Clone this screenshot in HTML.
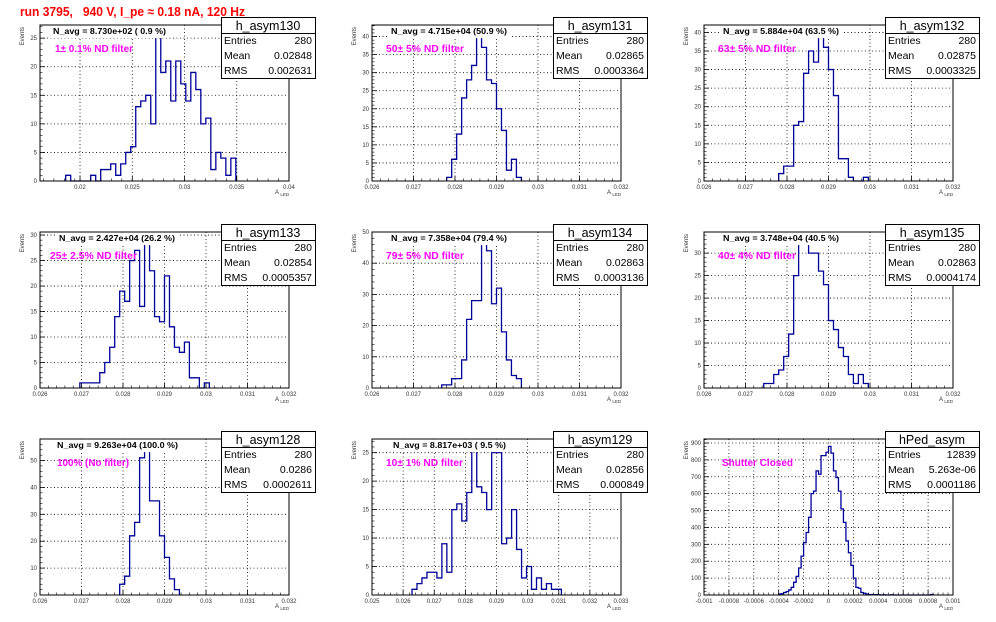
<!DOCTYPE html>
<html><head><meta charset="utf-8"><style>
body{margin:0;background:#fff}
svg{display:block;font-family:"Liberation Sans",Arial,sans-serif}
</style></head><body>
<svg id="c" width="996" height="622" viewBox="0 0 996 622" xmlns="http://www.w3.org/2000/svg">
<rect width="996" height="622" fill="#fff"/>
<text x="20" y="16" font-size="13" font-weight="bold" fill="#ff0000" textLength="225" lengthAdjust="spacingAndGlyphs" xml:space="preserve" style="white-space:pre">run 3795,   940 V, I_pe ≈ 0.18 nA, 120 Hz</text>
</svg>
<script>
// ----- data -----
const xTicksP1 = ["0.02","0.025","0.03","0.035","0.04"];
const xTicksMid = ["0.026","0.027","0.028","0.029","0.03","0.031","0.032"];
const xTicksP8 = ["0.025","0.026","0.027","0.028","0.029","0.03","0.031","0.032","0.033"];
const xTicksPed = ["-0.001","-0.0008","-0.0006","-0.0004","-0.0002","0","0.0002","0.0004","0.0006","0.0008","0.001"];
const yTicks25 = [0,5,10,15,20,25];
const yTicks30 = [0,5,10,15,20,25,30];
const yTicks40 = [0,5,10,15,20,25,30,35,40];
const yTicks50 = [0,10,20,30,40,50];
const yTicksPed = [0,100,200,300,400,500,600,700,800,900];

const counts130 = [1,0,0,0,0,1,0,2,2,3,1,3,5,6,13,14,15,10,26,19,21,14,21,17,14,19,16,10,11,2,5,4,1,4];
const counts131 = [1,6,13,23,28,32,41,37,28,27,20,14,3,6,1];
const counts132 = [2,4,4,15,16,29,35,32,40,36,30,23,6,6,1,0,0,1];
const counts133 = [1,1,1,1,3,5,8,14,19,17,25,27,16,29,23,14,13,22,12,8,7,9,2,2,0,1];
const counts134 = [1,1,3,3,9,22,28,28,48,44,27,32,18,9,4,3];
const counts135 = [1,1,3,4,7,12,25,33,32,30,30,26,23,15,13,9,7,3,1,3,1];
const counts128 = [4,7,22,27,51,55,35,35,22,14,6,2];
const counts129 = [1,2,3,4,4,3,9,4,15,16,13,18,26,19,18,15,25,25,9,10,15,8,3,5,1,3,1,2,1,1];
const countsPed = [5,8,15,20,30,45,75,110,160,230,310,370,460,600,615,735,715,825,825,845,880,840,735,695,615,510,430,320,250,175,100,45,40,15,10,5,3,3,1,2,1,0,1,0,0,1,0,0,0,0,0,0,0,0,0,0,0,0,0,0,0,3];

const binStarts = [0.018627,0.0278,0.0278,0.02696,0.02768,0.02744,0.02792,0.026285,-0.0004];
const binWidths = [0.000479,0.00012,0.00012,0.00012,0.00012,0.00012,0.00012,0.00016,0.00002];
const xRanges = [[0.01617,0.04],[0.026,0.032],[0.026,0.032],[0.026,0.032],[0.026,0.032],[0.026,0.032],[0.026,0.032],[0.025,0.033],[-0.001,0.001]];
const yMaxes = [27.3,43.2,42,30.6,50,34.7,58,27.4,923.6];
const histNames = ["h_asym130","h_asym131","h_asym132","h_asym133","h_asym134","h_asym135","h_asym128","h_asym129","hPed_asym"];
const entries = ["280","280","280","280","280","280","280","280","12839"];
const means = ["0.02848","0.02865","0.02875","0.02854","0.02863","0.02863","0.0286","0.02856","5.263e-06"];
const rmss = ["0.002631","0.0003364","0.0003325","0.0005357","0.0003136","0.0004174","0.0002611","0.000849","0.0001186"];
const navgs = ["N_avg = 8.730e+02 ( 0.9 %)","N_avg = 4.715e+04 (50.9 %)","N_avg = 5.884e+04 (63.5 %)","N_avg = 2.427e+04 (26.2 %)","N_avg = 7.358e+04 (79.4 %)","N_avg = 3.748e+04 (40.5 %)","N_avg = 9.263e+04 (100.0 %)","N_avg = 8.817e+03 ( 9.5 %)",""];
const filters = ["1\u00b1 0.1% ND filter","50\u00b1 5% ND filter","63\u00b1 5% ND filter","25\u00b1 2.5% ND filter","79\u00b1 5% ND filter","40\u00b1 4% ND filter","100% (No filter)","10\u00b1 1% ND filter","Shutter Closed"];

// ----- layout (not data) -----
const countsAll = [counts130,counts131,counts132,counts133,counts134,counts135,counts128,counts129,countsPed];
const xTickSets = [xTicksP1,xTicksMid,xTicksMid,xTicksMid,xTicksMid,xTicksMid,xTicksMid,xTicksP8,xTicksPed];
const yTickSets = [yTicks25,yTicks40,yTicks40,yTicks30,yTicks50,yTicks30,yTicks50,yTicks25,yTicksPed];
const navgX = [53,59,59,59,59,59,57,61,0];
const navgW = [113,116,116,116,116,116,121,113,0];
const filtX = [55,54,54,50,54,54,57,54,58];
const filtW = [78,78,78,87,78,78,72,77,71];

const NS = "http://www.w3.org/2000/svg";
const svg = document.getElementById('c');
function mk(tag, attrs, parent){
  const e = document.createElementNS(NS, tag);
  for (const k in attrs) e.setAttribute(k, attrs[k]);
  (parent||svg).appendChild(e);
  return e;
}

for (let i = 0; i < 9; i++) {
  const ox = (i % 3) * 332, oy = Math.floor(i / 3) * 207;
  const g = mk('g', {});
  
  
  const L = ox + 40, R = ox + 289, T = oy + 25, B = oy + 181;
  const [xmin, xmax] = xRanges[i];
  const ymax = yMaxes[i];
  const sx = v => L + (v - xmin) / (xmax - xmin) * (R - L);
  const sy = v => B - v / ymax * (B - T);

  const grid = mk('g', {stroke:'#000','stroke-width':'0.8','stroke-dasharray':'1,2.5'}, g);
  
  
  xTickSets[i].forEach(t => { const v = parseFloat(t), x = sx(v); if (x > L + 1 && x < R - 1) mk('line', {x1:x, x2:x, y1:T, y2:B}, grid); });
  yTickSets[i].forEach(v => { const y = sy(v); if (y > T + 1 && y < B - 1) mk('line', {x1:L, x2:R, y1:y, y2:y}, grid); });

  const c = countsAll[i], bs = binStarts[i], bw = binWidths[i];
  let d = 'M' + sx(bs).toFixed(2) + ',' + B;
  for (let k = 0; k < c.length; k++) {
    d += ' V' + sy(Math.min(c[k], ymax)).toFixed(2) + ' H' + sx(bs + (k + 1) * bw).toFixed(2);
  }
  d += ' V' + B;
  const h = mk('path', {d:d, fill:'none', stroke:'#000099', 'stroke-width':'1.3'}, g);
  
  

  const fr = mk('rect', {x:L, y:T, width:R-L, height:B-T, fill:'none', stroke:'#000', 'stroke-width':'1'}, g);
  
  

  const xt = xTickSets[i];
  for (let k = 0; k < xt.length; k++) {
    const v = parseFloat(xt[k]), x = sx(v);
    mk('line', {x1:x, x2:x, y1:B, y2:B - 5, stroke:'#000', 'stroke-width':'0.8'}, g);
    if (k < xt.length - 1) {
      const step = (parseFloat(xt[k + 1]) - v) / 5;
      for (let m = 1; m < 5; m++) { const xm = sx(v + m * step); mk('line', {x1:xm, x2:xm, y1:B, y2:B - 2.5, stroke:'#000', 'stroke-width':'0.6'}, g); }
    }
    if (x >= L - 2 && x <= R + 2) {
      const tl = mk('text', {x:x, y:B + 8, 'font-size':'6', 'text-anchor':'middle', fill:'#333'}, g);
      
      
      tl.textContent = xt[k];
    }
  }
  if (i === 0) { for (let v = 0.0165; v < 0.02; v += 0.001) { const xm = sx(v); mk('line', {x1:xm, x2:xm, y1:B, y2:B - 2.5, stroke:'#000', 'stroke-width':'0.6'}, g); } }
  const yt = yTickSets[i];
  for (let k = 0; k < yt.length; k++) {
    const y = sy(yt[k]);
    mk('line', {x1:L, x2:L + 5, y1:y, y2:y, stroke:'#000', 'stroke-width':'0.8'}, g);
    const st = (yt[1] - yt[0]) / 5;
    for (let m = 1; m < 5; m++) { const ym = sy(yt[k] + m * st); if (ym > T) mk('line', {x1:L, x2:L + 2.5, y1:ym, y2:ym, stroke:'#000', 'stroke-width':'0.6'}, g); }
    const tl = mk('text', {x:L - 3, y:y + 2, 'font-size':'6', 'text-anchor':'end', fill:'#333'}, g);
    
    
    tl.textContent = String(yt[k]);
  }

  const yTitle = mk('text', {x:0, y:0, 'font-size':'6', 'text-anchor':'end', fill:'#333', transform:'translate(' + (ox + 24) + ',' + (oy + 27) + ') rotate(-90)'}, g);
  
  
  yTitle.textContent = 'Events';
  const xTitle = mk('text', {x:ox + 275, y:oy + 194, 'font-size':'6', fill:'#333'}, g);
  
  
  xTitle.innerHTML = 'A <tspan font-size="4.5" dy="2">LED</tspan>';

  if (navgs[i]) {
    mk('rect', {x:ox + navgX[i] - 3, y:T + 0.6, width:navgW[i] + 6, height:12.5, fill:'#fff'}, g);
    const nt = mk('text', {x:ox + navgX[i], y:oy + 34, 'font-size':'8', 'font-weight':'bold', fill:'#000', textLength:navgW[i], lengthAdjust:'spacingAndGlyphs'}, g);
    
    
    nt.textContent = navgs[i];
  }
  const ft = mk('text', {x:ox + filtX[i], y:oy + 52, 'font-size':'10', 'font-weight':'bold', fill:'#ff00ff', textLength:filtW[i], lengthAdjust:'spacingAndGlyphs'}, g);
  
  
  ft.textContent = filters[i];

  const sb = mk('g', {}, g);
  
  
  mk('rect', {x:ox + 221.5, y:oy + 17.5, width:94, height:61, fill:'#fff', stroke:'#000', 'stroke-width':'1'}, sb);
  mk('line', {x1:ox + 221.5, x2:ox + 315.5, y1:oy + 33.5, y2:oy + 33.5, stroke:'#000', 'stroke-width':'1'}, sb);
  const tt = mk('text', {x:ox + 268, y:oy + 30, 'font-size':'12.5', 'text-anchor':'middle', fill:'#000'}, sb);
  
  
  tt.textContent = histNames[i];
  const rows = [['Entries', entries[i]], ['Mean', means[i]], ['RMS', rmss[i]]];
  rows.forEach((r, k) => {
    const y = oy + 44 + k * 15;
    const a = mk('text', {x:ox + 224, y:y, 'font-size':'10.5', fill:'#000'}, sb);
    
    
    a.textContent = r[0];
    const b = mk('text', {x:ox + 312, y:y, 'font-size':'10.5', 'text-anchor':'end', fill:'#000'}, sb);
    
    
    b.textContent = r[1];
  });
}
</script>
</body></html>
